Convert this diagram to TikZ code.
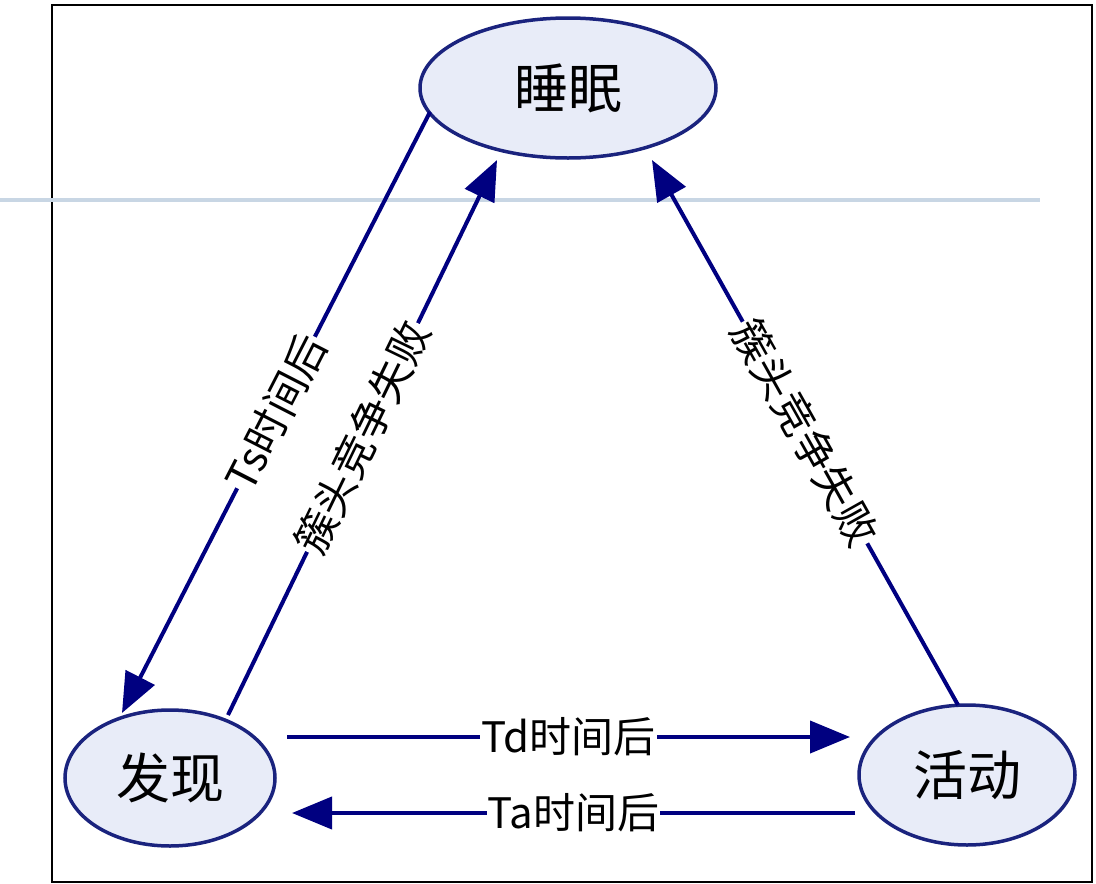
\documentclass[tikz,border=0pt]{standalone}
\usepackage{fontspec}
\setmainfont{Noto Sans CJK SC}
\usetikzlibrary{arrows.meta,shapes.geometric}
\definecolor{navy}{RGB}{0,0,128}
\definecolor{efill}{RGB}{232,236,248}
\definecolor{edge}{RGB}{26,35,126}
\definecolor{hline}{RGB}{200,214,228}
\begin{document}
\begin{tikzpicture}[x=1pt,y=-1pt,
  st/.style={ellipse,draw=edge,line width=3.5pt,fill=efill,font=\fontsize{54}{58}\selectfont,inner sep=0pt},
  ar/.style={draw=navy,line width=4pt,-{Triangle[length=40pt,width=32pt]}},
  lb/.style={fill=white,inner sep=1pt,font=\fontsize{42}{46}\selectfont,text=black}]
\useasboundingbox (0,0) rectangle (1096,884);
\draw[black,line width=2.5pt] (52,5) rectangle (1092,882);
\draw[hline,line width=4.5pt] (0,200) -- (1040,200);
\node[st,minimum width=296pt,minimum height=140pt] (s) at (568,88) {睡眠};
\node[st,minimum width=210pt,minimum height=136pt] (f) at (170,778) {发现};
\node[st,minimum width=216pt,minimum height=140pt] (h) at (967,775) {活动};
\coordinate (a1) at (430,112); \coordinate (b1) at (122,713);
\coordinate (a2) at (228,715); \coordinate (b2) at (497,160);
\coordinate (a3) at (958,705); \coordinate (b3) at (652,160);
\coordinate (a4) at (287,737); \coordinate (b4) at (850,737);
\coordinate (a5) at (855,813); \coordinate (b5) at (292,813);
\draw[ar] (a1) -- node[lb,sloped] {Ts时间后} (b1);
\draw[ar] (a2) -- node[lb,sloped] {簇头竞争失败} (b2);
\draw[ar] (a3) -- node[lb,sloped] {簇头竞争失败} (b3);
\draw[ar] (a4) -- node[lb] {Td时间后} (b4);
\draw[ar] (a5) -- node[lb] {Ta时间后} (b5);
\end{tikzpicture}
\end{document}
